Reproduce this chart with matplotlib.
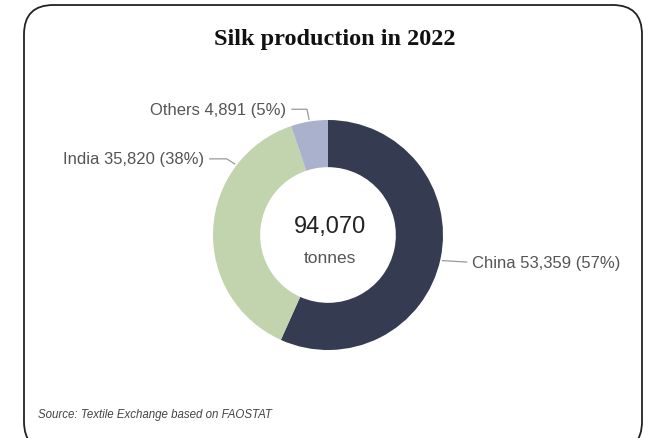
import matplotlib.pyplot as plt
from matplotlib.patches import FancyBboxPatch
import numpy as np

# data
countries = ['China', 'India', 'Others']
tonnes = [53359, 35820, 4891]
colors = ['#353b51', '#c1d4ad', '#a9b1cc']

total = sum(tonnes)

W, H = 653, 439
fig = plt.figure(figsize=(W / 100, H / 100), dpi=100)


def fx(x):
    return x / W


def fy(y):
    return 1 - y / H


# rounded card border
card = FancyBboxPatch((fx(24), fy(452)), fx(618), (452 - 6) / H,
                      boxstyle='round,pad=0,rounding_size=0.045',
                      transform=fig.transFigure, fc='none', ec='#222222', lw=1.3,
                      mutation_aspect=W / H, clip_on=False, zorder=-1)
fig.patches.append(card)

fig.text(fx(335), fy(40), 'Silk production in 2022', ha='center', va='center',
         fontsize=17.5, fontweight='bold', family='Liberation Serif', color='#111111')
fig.text(fx(38), fy(415), 'Source: Textile Exchange based on FAOSTAT', ha='left', va='center',
         fontsize=8.3, style='italic', color='#444444', family='Liberation Sans')

# donut axes, centre (328, 236), radius 115 px
cx, cy, R = 328, 236, 115
ax = fig.add_axes([fx(cx - R), fy(cy + R), 2 * R / W, 2 * R / H])
wedges, _ = ax.pie(tonnes, colors=colors, startangle=90, counterclock=False, radius=1,
                   wedgeprops=dict(width=0.41, linewidth=0))
ax.set_xlim(-1, 1)
ax.set_ylim(-1, 1)
ax.set_aspect('equal')
ax.axis('off')

ax.text(0.02, 0.08, f'{total:,}', ha='center', va='center', fontsize=17,
        color='#222222', family='Liberation Sans')
ax.text(0.02, -0.2, 'tonnes', ha='center', va='center', fontsize=12.5,
        color='#555555', family='Liberation Sans')

# label layout: anchor angle on ring, elbow offset, horizontal length, side
label_layout = {
    'China': dict(angle=-12.6, elbow=(0.21, -0.013), hlen=0.0, side=1),
    'India': dict(angle=142.7, elbow=(-0.069, 0.044), hlen=0.148, side=-1),
    'Others': dict(angle=99.3, elbow=(-0.018, 0.087), hlen=0.13, side=-1),
}

for name, val in zip(countries, tonnes):
    lay = label_layout[name]
    a = np.deg2rad(lay['angle'])
    x0, y0 = 1.02 * np.cos(a), 1.02 * np.sin(a)
    x1, y1 = x0 + lay['elbow'][0], y0 + lay['elbow'][1]
    x2 = x1 + lay['side'] * lay['hlen']
    ax.plot([x0, x1, x2], [y0, y1, y1], color='#999999', lw=0.9, clip_on=False)
    pct = round(100 * val / total)
    ax.text(x2 + lay['side'] * 0.05, y1, f'{name} {val:,} ({pct}%)',
            ha='left' if lay['side'] > 0 else 'right', va='center',
            fontsize=12, color='#555555', family='Liberation Sans', clip_on=False)

fig.savefig('out.png', dpi=100)
